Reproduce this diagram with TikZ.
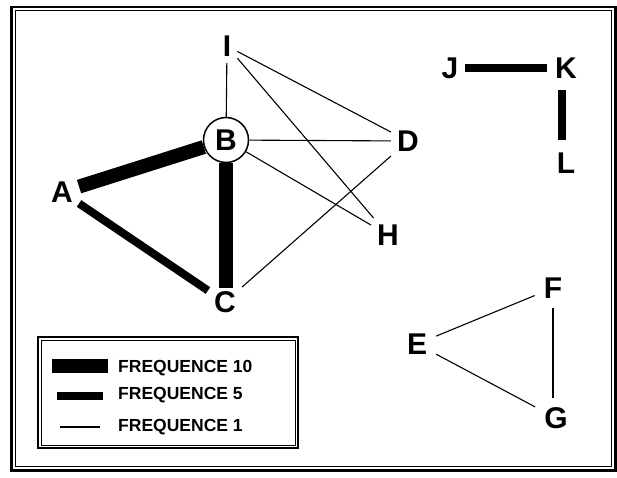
\documentclass[tikz,border=0pt]{standalone}
\usepackage{fontspec}
\setmainfont{Liberation Sans}
\usetikzlibrary{calc}

\begin{document}
\begin{tikzpicture}[x=1pt,y=-1pt,
        lettre/.style={font=\bfseries\fontsize{30}{30}\selectfont, inner sep=6pt, text height=21.5pt, text depth=0pt},
        legende/.style={font=\bfseries\fontsize{17.5}{17.5}\selectfont, anchor=west, inner sep=0pt, text height=12.5pt, text depth=0pt},
        freq1/.style={line width=1.1pt},
        freq5/.style={line width=8pt},
        freq10/.style={line width=14pt}]
        \useasboundingbox (0,0) rectangle (617,477);
        % cadre
        \draw[line width=2.5pt] (11.5,7) rectangle (615.5,470.5);
        \draw[line width=1pt] (15,10.5) rectangle (611.5,466);
        % sommets
        \foreach \n/\x/\y in {I/227/46, D/408/141, A/62/192, H/388/235, C/225/302, J/450/68, K/566/68, L/566/163}
        \node[lettre] (\n) at (\x,\y) {\n};
        \foreach \n/\x/\y in {F/553/288, E/417/344, G/556/418}
        \node[lettre, inner sep=9pt] (\n) at (\x,\y) {\n};
        \node[lettre, draw, circle, line width=1.5pt, minimum size=45pt, inner sep=0pt] (B) at (226,140) {B};
        % aretes
        \foreach \a/\b in {I/B, I/D, I/H, B/D, B/H, C/D, E/F, E/G}
        \draw[freq1] (\a) -- (\b);
        \draw[freq1] (F.south) -- (F.south |- G.north);
        \draw[freq10] (A) -- (B);
        \draw[freq10] (B) -- ([yshift=-3pt]B |- C.north);
        \draw[freq5] (A) -- (C);
        \draw[freq5, shorten >=2pt] (J) -- (K);
        \draw[freq5, shorten <=5pt, shorten >=6pt] ([xshift=-4pt]K.south) -- ([xshift=-4pt]L.north);
        % legende
        \draw[line width=1.2pt] (38,337) rectangle (298,448);
        \draw[line width=0.8pt] (41,340) rectangle (295,445);
        \draw[freq10] (52,366) -- (108,366);
        \draw[freq5] (57,395.5) -- (103,395.5);
        \draw[freq1] (60,427) -- (100,427);
        \node[legende] (f10) at (118,366) {FREQUENCE 10};
        \node[legende] (f5) at (118,393) {FREQUENCE 5};
        \node[legende] (f1) at (118,425.5) {FREQUENCE 1};
    \end{tikzpicture}
\end{document}
